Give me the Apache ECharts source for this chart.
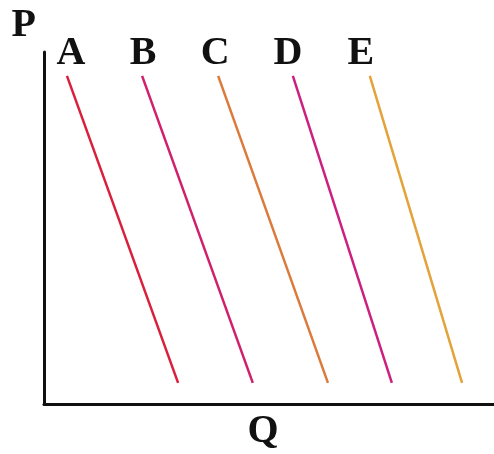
<!DOCTYPE html>
<html>
<head>
<meta charset="utf-8">
<script src="https://cdn.jsdelivr.net/npm/echarts@6/dist/echarts.min.js"></script>
<style>
  html, body { margin: 0; padding: 0; background: #fff; }
  #chart { width: 494px; height: 454px; }
</style>
</head>
<body>
<div id="chart"></div>
<script>
// demand curves (Q, P in 0..100 units)
var names = ['A', 'B', 'C', 'D', 'E'];
var topQ = [5.1, 21.8, 38.7, 55.3, 72.4];
var bottomQ = [29.8, 46.4, 63.1, 77.3, 92.9];
var topP = [93.2, 93.2, 93.2, 93.2, 93.2];
var bottomP = [6.0, 6.0, 6.0, 6.0, 6.0];

var colors = ['#d8203c', '#d0206c', '#dc7a3c', '#cc2080', '#e4a23a'];
// horizontal nudge of each letter from its line's top end, px
var labelShift = [4, 1, -3, -5, -9];

var myChart = echarts.init(document.getElementById('chart'));

var serifBold = {
    color: '#111',
    fontFamily: 'Liberation Serif',
    fontWeight: 'bold',
    fontSize: 40
};

var series = [];
names.forEach(function (name, i) {
    var s = labelShift[i];
    series.push({
        name: name,
        type: 'line',
        symbol: 'circle',
        symbolSize: 1,
        showSymbol: true,
        silent: true,
        clip: false,
        itemStyle: { color: 'rgba(0,0,0,0)' },
        lineStyle: { color: colors[i], width: 2.5 },
        labelLayout: { hideOverlap: false },
        data: [
            {
                value: [topQ[i], topP[i]],
                label: Object.assign({
                    show: true,
                    position: 'top',
                    distance: 2,
                    padding: s > 0 ? [0, 0, 0, 2 * s] : [0, -2 * s, 0, 0],
                    formatter: name
                }, serifBold)
            },
            [bottomQ[i], bottomP[i]]
        ]
    });
});

var option = {
    animation: false,
    grid: { left: 44, right: 0, top: 52, bottom: 50, outerBoundsMode: 'none', containLabel: false },
    xAxis: {
        type: 'value',
        min: 0,
        max: 100,
        name: 'Q',
        nameLocation: 'middle',
        nameGap: 8,
        nameTextStyle: Object.assign({
            verticalAlign: 'top',
            padding: [0, 12, 0, 0]
        }, serifBold),
        axisLine: { lineStyle: { color: '#111', width: 3 } },
        axisTick: { show: false },
        axisLabel: { show: false },
        splitLine: { show: false }
    },
    yAxis: {
        type: 'value',
        min: 0,
        max: 100,
        name: 'P',
        nameLocation: 'end',
        nameGap: 6,
        nameTextStyle: Object.assign({
            align: 'right',
            padding: [0, 8, 0, 0]
        }, serifBold),
        axisLine: { lineStyle: { color: '#111', width: 3 } },
        axisTick: { show: false },
        axisLabel: { show: false },
        splitLine: { show: false }
    },
    series: series
};

myChart.setOption(option);
</script>
</body>
</html>
